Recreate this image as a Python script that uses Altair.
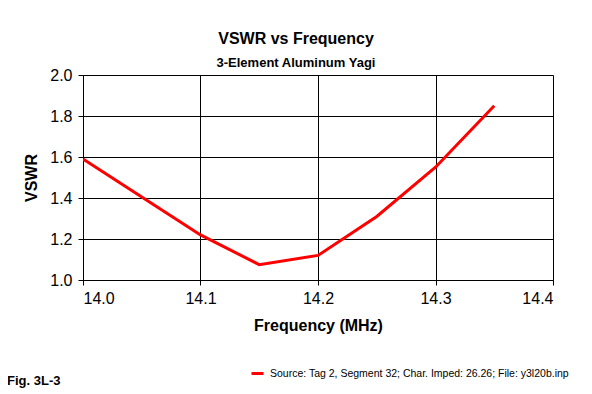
import altair as alt
import pandas as pd

freq = [14.0, 14.05, 14.1, 14.15, 14.2, 14.25, 14.3, 14.35]
vswr = [1.59, 1.405, 1.22, 1.075, 1.12, 1.31, 1.55, 1.85]
series_name = ["Source: Tag 2, Segment 32; Char. Imped: 26.26; File: y3l20b.inp"]
x_ticks = [14.0, 14.1, 14.2, 14.3, 14.4]
y_ticks = [1.0, 1.2, 1.4, 1.6, 1.8, 2.0]
fig_label = ["Fig. 3L-3"]

FONT = "Liberation Sans"

df = pd.DataFrame({"freq": freq, "vswr": vswr, "series": series_name * len(freq)})

line = alt.Chart(df).mark_line(strokeWidth=3, clip=True).encode(
    x=alt.X("freq:Q",
            scale=alt.Scale(domain=[14.0, 14.4], nice=False, zero=False),
            axis=alt.Axis(values=x_ticks, format=".1f", title="Frequency (MHz)",
                          titleFont=FONT, titleFontSize=16, titleFontWeight="bold",
                          titleColor="black", titlePadding=11,
                          labelFont=FONT, labelFontSize=16, labelColor="black",
                          labelPadding=5, tickSize=5, tickColor="black",
                          domainColor="black", gridColor="black", gridWidth=1,
                          gridOpacity=1)),
    y=alt.Y("vswr:Q",
            scale=alt.Scale(domain=[1.0, 2.0], nice=False, zero=False),
            axis=alt.Axis(values=y_ticks, format=".1f", title="VSWR",
                          titleFont=FONT, titleFontSize=16, titleFontWeight="bold",
                          titleColor="black", titlePadding=10,
                          labelFont=FONT, labelFontSize=16, labelColor="black",
                          labelPadding=6, tickSize=5, tickColor="black",
                          domainColor="black", gridColor="black", gridWidth=1,
                          gridOpacity=1)),
    color=alt.Color("series:N",
                    scale=alt.Scale(domain=series_name, range=["#ff0000"]),
                    legend=alt.Legend(title=None, orient="none", legendX=167,
                                      legendY=291, symbolType="stroke",
                                      symbolStrokeWidth=3, symbolSize=144,
                                      labelFont=FONT, labelFontSize=10.5,
                                      labelColor="black", labelLimit=500,
                                      labelOffset=5)),
)

fig_df = pd.DataFrame({"label": fig_label})
fig_text = alt.Chart(fig_df).mark_text(
    font=FONT, fontSize=13, fontWeight="bold", align="left", baseline="middle",
    color="black"
).encode(x=alt.value(-76), y=alt.value(306), text="label:N")

chart = alt.layer(line, fig_text).properties(
    width=470,
    height=205,
    autosize=alt.AutoSizeParams(type="none"),
    padding={"left": 75, "top": 67, "right": 31, "bottom": 111},
    title=alt.TitleParams(
        text="VSWR vs Frequency",
        subtitle="3-Element Aluminum Yagi",
        font=FONT, fontSize=16, fontWeight="bold", color="black",
        subtitleFont=FONT, subtitleFontSize=13, subtitleFontWeight="bold",
        subtitleColor="black", subtitlePadding=10,
        anchor="middle", dx=-22, offset=-3,
    ),
).configure_view(stroke="black", strokeWidth=1).configure(background="white")

chart.save("out.html", embed_options={"renderer": "svg", "actions": False})
